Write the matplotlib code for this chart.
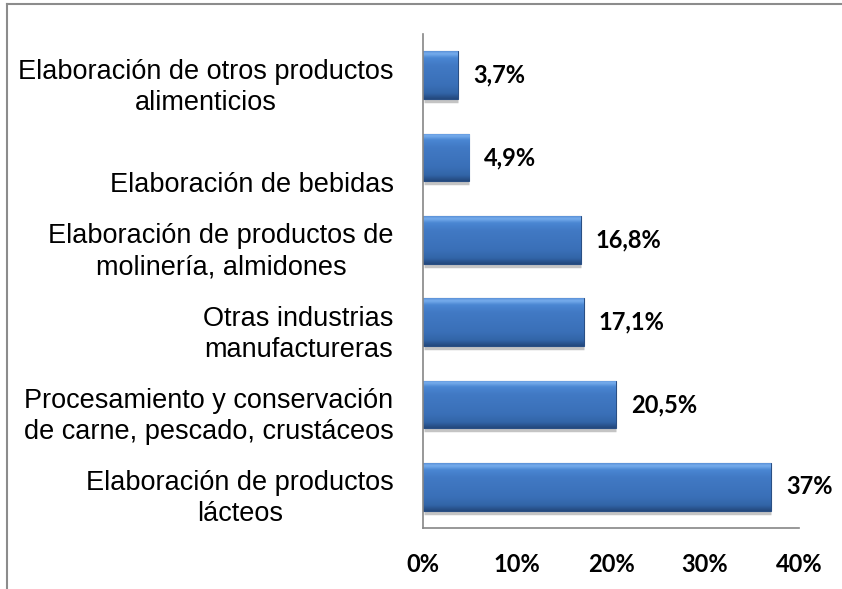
import numpy as np
import matplotlib
matplotlib.use('Agg')
import matplotlib.pyplot as plt
from matplotlib.colors import LinearSegmentedColormap
from matplotlib.lines import Line2D
from matplotlib.transforms import ScaledTranslation

# data, bottom to top
categories = [
    'Elaboración de productos\nlácteos',
    'Procesamiento y conservación\nde carne, pescado, crustáceos',
    'Otras industrias\nmanufactureras',
    'Elaboración de productos de\nmolinería, almidones',
    '\nElaboración de bebidas',
    'Elaboración de otros productos\nalimenticios',
]
values = [37.0, 20.5, 17.1, 16.8, 4.9, 3.7]
value_labels = ['37%', '20,5%', '17,1%', '16,8%', '4,9%', '3,7%']
x_ticks = [0, 10, 20, 30, 40]
x_tick_labels = ['0%', '10%', '20%', '30%', '40%']

fig = plt.figure(figsize=(8.42, 5.89), dpi=100)
ax = fig.add_axes([0.5024, 0.1036, 0.4466, 0.8387])

y = np.arange(len(values))
bars = ax.barh(y, values, height=0.58, color='#3f76c0', edgecolor='#2a4f84', linewidth=0.8, zorder=2)

# fake bevel/gradient like the excel bars
grad = LinearSegmentedColormap.from_list('bev', [
    (0.0, '#23487c'), (0.12, '#3265a8'), (0.3, '#3a70b8'), (0.7, '#4179c4'),
    (0.86, '#4a86d2'), (0.95, '#78aeee'), (1.0, '#5a90d6')])
g = np.linspace(0, 1, 128).reshape(-1, 1)
for b in bars:
    x0, y0, w, h = b.get_x(), b.get_y(), b.get_width(), b.get_height()
    im = ax.imshow(g, cmap=grad, aspect='auto', extent=[x0, x0 + w, y0, y0 + h],
                   origin='lower', zorder=2.5, interpolation='bicubic')
    im.set_clip_path(b)
    # soft shadow under the bar
    ax.plot([x0 + 0.1, x0 + w], [y0 - 0.025, y0 - 0.025], color='#c4c4c4', linewidth=2.5, zorder=1.5,
            solid_capstyle='butt')

ax.set_xlim(0, 40)
ax.set_ylim(-0.5, len(values) - 0.5)

# value labels
for b, lab in zip(bars, value_labels):
    ax.annotate(lab, (b.get_width(), b.get_y() + b.get_height() / 2), xytext=(15, 0),
                textcoords='offset pixels', ha='left', va='center',
                fontsize=17, fontweight='bold', family='Lato', color='black')

# category labels, a bit lower than the bar centre like in the original
off = ScaledTranslation(0, -0.12, fig.dpi_scale_trans)
tr = ax.get_yaxis_transform() + off
ax.set_yticks(y)
ax.set_yticklabels([])
for yi, cat in zip(y, categories):
    ax.text(-0.078, yi, cat, transform=tr, ha='right', va='center', multialignment='center',
            fontsize=19.5, family='Liberation Sans', linespacing=1.24)

ax.set_xticks(x_ticks)
ax.set_xticklabels(x_tick_labels, fontsize=17, fontweight='bold', family='Lato')
ax.tick_params(axis='both', length=0)
ax.tick_params(axis='x', pad=18)

for s in ['top', 'right']:
    ax.spines[s].set_visible(False)
ax.spines['left'].set_color('#868686')
ax.spines['bottom'].set_color('#868686')
ax.spines['left'].set_linewidth(1.2)
ax.spines['bottom'].set_linewidth(1.2)

# outer chart border (left and top visible)
fig.add_artist(Line2D([0.0083, 0.0083], [0, 0.993], transform=fig.transFigure, color='#8c8c8c', linewidth=1.5))
fig.add_artist(Line2D([0.0083, 1], [0.993, 0.993], transform=fig.transFigure, color='#8c8c8c', linewidth=1.5))

fig.savefig('out.png', dpi=100)
